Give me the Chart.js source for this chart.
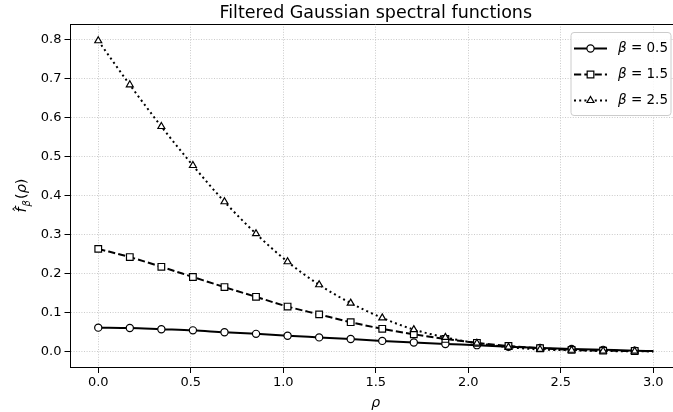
<!DOCTYPE html>
<html>
<head>
<meta charset="utf-8">
<script src="https://cdn.jsdelivr.net/npm/chart.js@4.4.1/dist/chart.umd.min.js"></script>
<style>
  html, body { margin: 0; padding: 0; background: #fff; overflow: hidden; width: 673px; height: 412px; }
</style>
</head>
<body>
<canvas id="chart" width="690" height="412"></canvas>
<script>
/* ==========================
   DATA
========================== */
const rho = [0, 0.1706, 0.3411, 0.5117, 0.6823, 0.8528, 1.0234, 1.1940, 1.3645,
  1.5351, 1.7057, 1.8763, 2.0468, 2.2174, 2.3880, 2.5585, 2.7291, 2.8997, 3.0];

const beta05 = [0.061, 0.060, 0.057, 0.054, 0.049, 0.045, 0.040, 0.036, 0.032,
  0.027, 0.023, 0.019, 0.016, 0.012, 0.009, 0.006, 0.004, 0.002, 0.001];
const beta15 = [0.263, 0.242, 0.217, 0.191, 0.165, 0.140, 0.115, 0.095, 0.075,
  0.058, 0.044, 0.032, 0.022, 0.014, 0.008, 0.004, 0.002, 0.001, 0.0005];
const beta25 = [0.797, 0.684, 0.577, 0.477, 0.384, 0.302, 0.230, 0.171, 0.124,
  0.086, 0.056, 0.036, 0.021, 0.011, 0.005, 0.003, 0.001, 0.0005, 0];

const seriesLabels = ["0.5", "1.5", "2.5"];
const xTicks = [0, 0.5, 1.0, 1.5, 2.0, 2.5, 3.0];
const yTicks = [0, 0.1, 0.2, 0.3, 0.4, 0.5, 0.6, 0.7, 0.8];

const FONT = "'DejaVu Sans', sans-serif";

/* ==========================
   DATASETS
========================== */
function pts(ys) {
  return rho.map((x, i) => ({ x: x, y: ys[i] }));
}

// last point (rho = 3.0) carries no marker
const markerRadius = r => ctx => ctx.dataIndex === rho.length - 1 ? 0 : r;
const sizes = { circle: 3.6, rect: 4.7, triangle: 4.0 };

const datasets = [
  { label: seriesLabels[0], data: pts(beta05), borderDash: [], pointStyle: "circle", order: 3 },
  { label: seriesLabels[1], data: pts(beta15), borderDash: [7.2, 3.1], pointStyle: "rect", order: 2 },
  { label: seriesLabels[2], data: pts(beta25), borderDash: [2, 3.2], pointStyle: "triangle", order: 1 }
].map(d => Object.assign({
  borderColor: "#000",
  borderWidth: 2,
  backgroundColor: "#fff",
  pointBackgroundColor: "#fff",
  pointBorderColor: "#000",
  pointBorderWidth: 1.2,
  pointRadius: markerRadius(sizes[d.pointStyle]),
  pointHoverRadius: 0,
  cubicInterpolationMode: "monotone",
  fill: false
}, d));

/* ==========================
   PLUGINS
========================== */
// top spine, y label with subscript, legend box
const framePlugin = {
  id: "frame",
  afterDraw(chart) {
    const c = chart.ctx;
    const a = chart.chartArea;
    c.save();
    c.strokeStyle = "#000";
    c.lineWidth = 1;
    c.beginPath();
    c.moveTo(a.left, a.top + 0.5);
    c.lineTo(a.right, a.top + 0.5);
    c.stroke();

    /* Y LABEL */
    c.save();
    c.translate(21, (a.top + a.bottom) / 2);
    c.rotate(-Math.PI / 2);
    c.fillStyle = "#000";
    c.textBaseline = "alphabetic";
    c.textAlign = "left";
    const big = "italic 14.5px " + FONT;
    const small = "italic 10px " + FONT;
    c.font = big;
    const wf = c.measureText("f").width;
    c.font = small;
    const wb = c.measureText("\u03b2").width;
    c.font = "14.5px " + FONT;
    const wp = c.measureText("(").width;
    c.font = big;
    const wr = c.measureText("\u03c1").width;
    const total = wf + wb + 2 * wp + wr + 2;
    let x = -total / 2;
    const base = 5;
    c.font = big;
    c.fillText("f", x, base);
    c.font = "13px " + FONT;
    c.textAlign = "center";
    c.fillText("\u02c6", x + wf / 2 + 1, base - 3);
    c.textAlign = "left";
    x += wf + 1;
    c.font = small;
    c.fillText("\u03b2", x, base + 3.5);
    x += wb + 1;
    c.font = "14.5px " + FONT;
    c.fillText("(", x, base);
    x += wp;
    c.font = big;
    c.fillText("\u03c1", x, base);
    x += wr;
    c.font = "14.5px " + FONT;
    c.fillText(")", x, base);
    c.restore();

    /* LEGEND */
    const bx = 571, by = 32.5, bw = 100, bh = 83;
    c.fillStyle = "rgba(255,255,255,0.85)";
    c.strokeStyle = "#cccccc";
    c.lineWidth = 1;
    c.beginPath();
    c.roundRect(bx, by, bw, bh, 3);
    c.fill();
    c.stroke();

    chart.data.datasets.forEach((ds, i) => {
      const y = by + 16 + i * 26;
      c.strokeStyle = "#000";
      c.lineWidth = 2;
      c.setLineDash(ds.borderDash);
      c.beginPath();
      c.moveTo(574, y);
      c.lineTo(607, y);
      c.stroke();
      c.setLineDash([]);
      c.fillStyle = "#fff";
      c.lineWidth = 1.2;
      Chart.helpers.drawPoint(c, { pointStyle: ds.pointStyle, radius: sizes[ds.pointStyle], borderWidth: 1.2 }, 590.5, y);

      c.fillStyle = "#000";
      c.textBaseline = "middle";
      c.textAlign = "left";
      c.font = "italic 13.5px " + FONT;
      c.fillText("\u03b2", 618, y);
      const w = c.measureText("\u03b2").width;
      c.font = "13.5px " + FONT;
      c.fillText(" = " + ds.label, 618 + w, y);
    });
    c.restore();
  }
};

/* ==========================
   CHART
========================== */
const gridOpts = { color: "#bdbdbd", lineWidth: 0.8, tickColor: "#000", tickLength: 6, tickWidth: 1 };
const borderOpts = { color: "#000", width: 1, dash: [1, 1.6] };

new Chart(document.getElementById("chart"), {
  type: "line",
  data: { datasets: datasets },
  plugins: [framePlugin],
  options: {
    responsive: false,
    animation: false,
    events: [],
    // canvas is wider than the window: the right spine falls outside the picture
    layout: { autoPadding: false, padding: { left: 0, top: 0, bottom: 0, right: 9 } },
    plugins: {
      legend: { display: false },
      tooltip: { enabled: false },
      title: {
        display: true,
        fullSize: false,
        text: "Filtered Gaussian spectral functions",
        color: "#000",
        font: { family: FONT, size: 17.5, weight: "normal" },
        padding: { top: 2.5, bottom: 0.5 }
      }
    },
    scales: {
      x: {
        type: "linear",
        min: -0.15,
        max: 3.15,
        afterBuildTicks: s => { s.ticks = xTicks.map(v => ({ value: v })); },
        afterFit: s => { s.height = 45; },
        ticks: {
          color: "#000",
          font: { family: FONT, size: 13 },
          padding: 2,
          maxRotation: 0,
          callback: v => v.toFixed(1)
        },
        grid: gridOpts,
        border: borderOpts,
        title: {
          display: true,
          text: "\u03c1",
          color: "#000",
          font: { family: FONT, size: 14, style: "italic" },
          padding: { top: 0, bottom: 0 }
        }
      },
      y: {
        type: "linear",
        min: -0.04,
        max: 0.84,
        afterBuildTicks: s => { s.ticks = yTicks.map(v => ({ value: v })); },
        afterFit: s => { s.width = 70.5; },
        ticks: {
          color: "#000",
          font: { family: FONT, size: 13 },
          padding: 3,
          callback: v => v.toFixed(1)
        },
        grid: gridOpts,
        border: borderOpts
      }
    }
  }
});
</script>
</body>
</html>
